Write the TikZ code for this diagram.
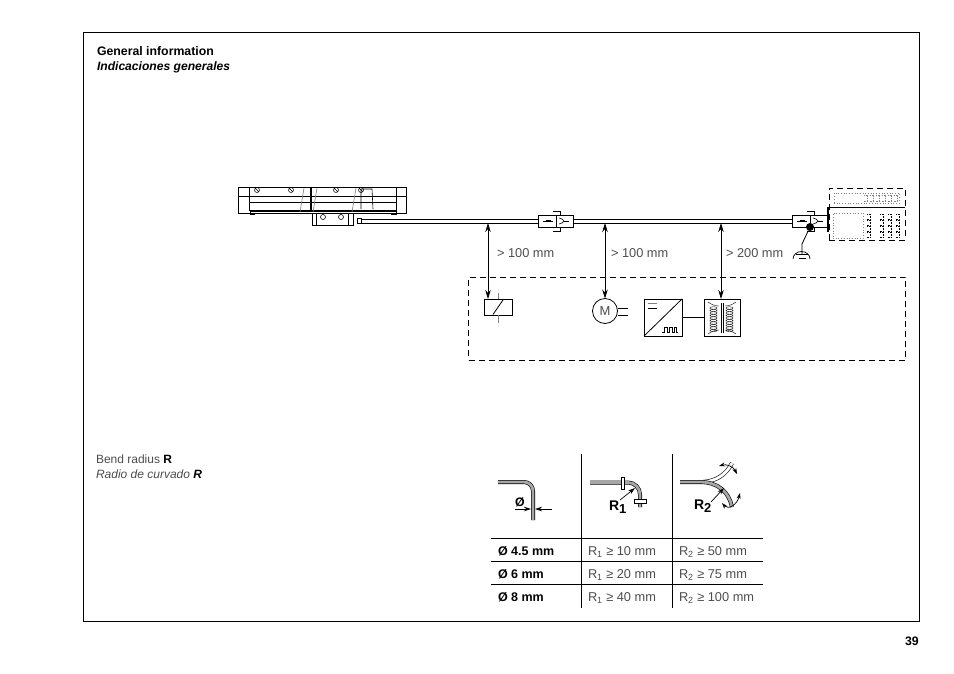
\documentclass[tikz,border=0pt]{standalone}
\usepackage{fontspec}
\setmainfont{Liberation Sans}
\usepackage{tikz}
\usetikzlibrary{arrows.meta}
\definecolor{txtgray}{gray}{0.3}
\definecolor{tubegray}{gray}{0.65}
\tikzset{
  every node/.style={inner sep=0pt,outer sep=0pt},
  txt/.style={anchor=base west,font=\fontsize{12}{14}\selectfont,text=txtgray},
  wide txt/.style={anchor=base west,font=\fontsize{12.8}{14}\selectfont,text=txtgray},
  head/.style={anchor=base west,font=\fontsize{12.3}{14}\selectfont\bfseries},
  box/.style={draw,line width=0.8pt,anchor=north west},
  thin line/.style={line width=0.6pt},
  gap/.style={line width=0.8pt,{Stealth[length=9pt,width=5.5pt]}-{Stealth[length=9pt,width=5.5pt]}},
  pointer/.style={line width=0.7pt,-{Stealth[length=7pt,width=4.5pt]}},
  tube/.style={line width=0.6pt,double=tubegray,double distance=2.8pt},
  dash box/.style={draw,line width=0.7pt,dash pattern=on 6pt off 4pt,anchor=north west},
  dot box/.style={draw=gray,line width=0.7pt,dotted,anchor=north west}
}
% #1 name, #2 left x, #3 top y
\newcommand{\plugconn}[3]{
  \node[box,minimum width=35pt,minimum height=12pt,fill=white] (#1) at (#2,#3) {};
  \draw[line width=0.8pt] (#2+18,#3) -- (#2+18,#3+12);
  \draw[line width=0.8pt] (#2+15,#3-4) -- (#2+22,#3-4) -- (#2+22,#3);
  \draw[line width=0.8pt] (#2+15,#3+16) -- (#2+22,#3+16) -- (#2+22,#3+12);
  \draw[line width=0.6pt] (#2+5,#3+6) -- (#2+15,#3+6);
  \fill (#2+8,#3+4.7) rectangle (#2+13,#3+7.3);
  \draw[line width=0.6pt] (#2+21,#3+3) .. controls (#2+24,#3+3) and (#2+25,#3+5) .. (#2+26,#3+6)
    .. controls (#2+25,#3+7) and (#2+24,#3+9) .. (#2+21,#3+9);
  \draw[line width=0.6pt] (#2+26,#3+6) -- (#2+31,#3+6);
}
\newcommand{\tablerow}[5]{
  \node[head,font=\fontsize{12.5}{14}\selectfont\bfseries] (d#1) at (498,#2) {#3};
  \node[wide txt] (ra#1) at (588,#2) {R\textsubscript{1} ≥ #4};
  \node[wide txt] (rb#1) at (679,#2) {R\textsubscript{2} ≥ #5};
}
\newcommand{\bigsub}[2]{#1\raisebox{-3.5pt}{\fontsize{13}{14}\selectfont #2}}
\begin{document}
\begin{tikzpicture}[x=1pt,y=-1pt]
  \useasboundingbox (0,0) rectangle (954,673);
  \node[draw,line width=0.8pt,anchor=north west,minimum width=836pt,minimum height=589pt] (frame) at (83,32.7) {};
  \node[head] (title) at (97,55) {General information};
  \node[head,font=\fontsize{12.1}{14}\selectfont\bfseries\itshape] (titlees) at (97,70) {Indicaciones generales};
  \node[head] (page) at (905,645) {39};

  % scale
  \node[box,minimum width=168pt,minimum height=26pt,line width=0.6pt] (scale) at (238,187) {};
  \node[box,minimum width=41pt,minimum height=12pt] (scanhead) at (312,213) {};
  \draw[thin line] (249,187) -- (249,211) (396,187) -- (396,211) (238,196) -- (406,196);
  \draw[line width=1.4pt] (249,202.5) -- (396,202.5) (250,211) -- (396,211) (311,187) -- (311,211);
  \draw[thin line,gray] (304,188) -- (300,212) (317,188) -- (313,212) (356,188) -- (352,212);
  \draw[thin line] (361,189) -- (372,189) -- (373,209) (361,189) -- (361,209);
  \draw[line width=1pt] (250,211) -- (250,214) -- (255,214) (391,214) -- (396,214) -- (396,211);
  \foreach \sx in {257,291,336,361}
    \draw[line width=0.5pt] (\sx,190) circle (2.5pt) (\sx-1.5,188.5) -- (\sx+1.5,191.5);
  \draw[thin line] (323,217) circle (2.5pt) (341,217) circle (2.5pt);
  \draw[thin line] (316,213) -- (316,225) (348,213) -- (348,225);
  \node[box,minimum width=4pt,minimum height=5pt] (strain) at (357,218.5) {};

  % cable and connectors
  \plugconn{conna}{538}{215}
  \plugconn{connb}{792}{215}
  \draw[thin line] (strain.east |- 0,219) -- (conna.west |- 0,219) (strain.east |- 0,223) -- (conna.west |- 0,223);
  \draw[thin line] (conna.east |- 0,219) -- (connb.west |- 0,219) (conna.east |- 0,223) -- (connb.west |- 0,223);

  % display unit
  \node[dash box,minimum width=76pt,minimum height=52pt] (unit) at (829,188) {};
  \draw[thin line] (unit.west |- 0,207) -- (unit.east |- 0,207);
  \draw[line width=2pt] (828,207) -- (828,232);
  \node[dot box,minimum width=65pt,minimum height=10pt] (display) at (834,193) {};
  \node[dot box,minimum width=30pt,minimum height=25pt] (panel) at (833,213) {};
  \foreach \ky in {214,220,226,232}
    \foreach \kx in {867,880,888,896}
      \draw[line width=0.7pt,densely dotted] (\kx,\ky) -- (\kx+3.5,\ky) -- (\kx+3.5,\ky+5) -- (\kx,\ky+5);
  \foreach \kx in {864,870,876,882,888,894}
    \draw[line width=0.6pt,densely dotted,gray] (\kx,195) -- (\kx+3.5,195) -- (\kx+3.5,201) -- (\kx,201);

  % ground
  \node[circle,fill,minimum size=8pt] (blob) at (810,227) {};
  \coordinate (gnd) at (802,244);
  \draw[line width=0.8pt] (blob) -- (gnd);
  \draw[line width=0.7pt] (gnd) -- (802,254) (793,259) arc (180:360:8.5 and 7.5);
  \draw[line width=0.9pt] (796,254.5) -- (808,254.5) (798.5,258) -- (805.5,258);

  % interference sources
  \node[dash box,minimum width=437pt,minimum height=83pt] (zone) at (468.5,277) {};
  \node[box,minimum width=28pt,minimum height=16pt] (relay) at (484,299) {};
  \draw[thin line,gray] (498,293) -- (relay.north) (relay.south) -- (498,323);
  \draw[line width=0.8pt] (493,314.5) -- (503,300);
  \node[circle,draw,line width=0.8pt,minimum size=25pt,font=\fontsize{13}{14}\selectfont,text=txtgray] (motor) at (605,311) {M};
  \coordinate (mota) at (628,308);
  \coordinate (motb) at (628,315);
  \draw[line width=0.8pt] (motor.east |- mota) -- (mota) (motor.east |- motb) -- (motb);
  \node[box,minimum width=38pt,minimum height=37pt] (conv) at (644,299) {};
  \draw[line width=0.8pt] (conv.south west) -- (conv.north east);
  \draw[thin line,gray] (648,303) -- (657,303);
  \draw[thin line] (648,308) -- (657,308);
  \draw[line width=0.7pt] (662,332) -- (664,332) -- (664,327) -- (667,327) -- (667,332) -- (669,332) -- (669,327) -- (672,327) -- (672,332) -- (674,332) -- (674,327) -- (676,327) -- (676,332) -- (678,332);
  \node[box,minimum width=36pt,minimum height=37pt] (trafo) at (704,299) {};
  \draw[line width=0.8pt] (conv) -- (trafo);
  \draw[line width=0.6pt] (721,303) -- (721,333) (723,303) -- (723,333);
  \foreach \cy in {308,310.5,...,331}
    \draw[line width=0.4pt] (713.5,\cy) ellipse (3.5pt and 1.3pt) (729.5,\cy) ellipse (3.5pt and 1.3pt);
  \draw[line width=0.4pt] (708,302) .. controls (712,305) and (716,306) .. (719,306)
    (708,334) .. controls (712,331) and (716,330) .. (719,330)
    (736,302) .. controls (732,305) and (728,306) .. (725,306)
    (736,334) .. controls (732,331) and (728,330) .. (725,330);

  % distances
  \coordinate (cba) at (488,223);
  \coordinate (cbb) at (605,223);
  \coordinate (cbc) at (721,223);
  \draw[gap] (cba) -- (relay.north west -| cba);
  \draw[gap] (cbb) -- (motor.north);
  \draw[gap] (cbc) -- (trafo.north -| cbc);
  \node[wide txt] (gapa) at (497,257) {> 100 mm};
  \node[wide txt] (gapb) at (611,257) {> 100 mm};
  \node[wide txt] (gapc) at (726,257) {> 200 mm};

  % bend radius
  \node[txt] (bend) at (96,463) {Bend radius \textbf{\textcolor{black}{R}}};
  \node[txt,font=\fontsize{12}{14}\selectfont\itshape] (bendes) at (96,478) {Radio de curvado \textbf{\textcolor{black}{R}}};

  \draw[tube] (498,482) -- (524,482) arc (-90:0:9) -- (533,520);
  \coordinate (dl) at (515,509);
  \coordinate (dr) at (552,509);
  \draw[pointer] (dl) -- (531,509);
  \draw[pointer] (dr) -- (535,509);
  \node[head] (dia) at (515,506) {Ø};

  \draw[tube] (590,482.5) -- (628,482.5) arc (-90:0:12) -- (640,507);
  \node[box,fill=white,line width=0.7pt,minimum width=3.5pt,minimum height=12pt] (clampa) at (621,477) {};
  \node[box,fill=white,line width=0.7pt,minimum width=12pt,minimum height=4pt] (clampb) at (634,499) {};
  \node[head,font=\fontsize{14}{16}\selectfont\bfseries] (ra) at (609,510) {\bigsub{R}{1}};
  \coordinate (raend) at (620,500);
  \draw[pointer] (raend) -- (635,488);

  \draw[tube,double=white] (703,482) .. controls (716,481) and (726,475) .. (732,463);
  \draw[tube] (680,482) -- (700,482) .. controls (718,482) and (729,492) .. (732,507);
  \node[head,font=\fontsize{14}{16}\selectfont\bfseries] (rb) at (694,509) {\bigsub{R}{2}};
  \coordinate (rbend) at (711,502);
  \draw[pointer] (rbend) -- (724,488);
  \draw[line width=0.7pt,{Stealth[length=6pt,width=4pt]}-{Stealth[length=6pt,width=4pt]}] (719,466) .. controls (726,464) and (733,466) .. (737,474);
  \draw[line width=0.7pt,{Stealth[length=6pt,width=4pt]}-{Stealth[length=6pt,width=4pt]}] (722,503) .. controls (728,510) and (737,505) .. (740,493);

  % table
  \coordinate (tva) at (581,454);
  \coordinate (tvb) at (672,454);
  \draw[line width=0.8pt] (tva) -- (581,608) (tvb) -- (672,608);
  \foreach \ly in {538,561,584}
    \draw[line width=0.8pt] (491,\ly) -- (763,\ly);
  \tablerow{a}{555}{Ø 4.5 mm}{10 mm}{50 mm}
  \tablerow{b}{578}{Ø 6 mm}{20 mm}{75 mm}
  \tablerow{c}{601}{Ø 8 mm}{40 mm}{100 mm}
\end{tikzpicture}
\end{document}
